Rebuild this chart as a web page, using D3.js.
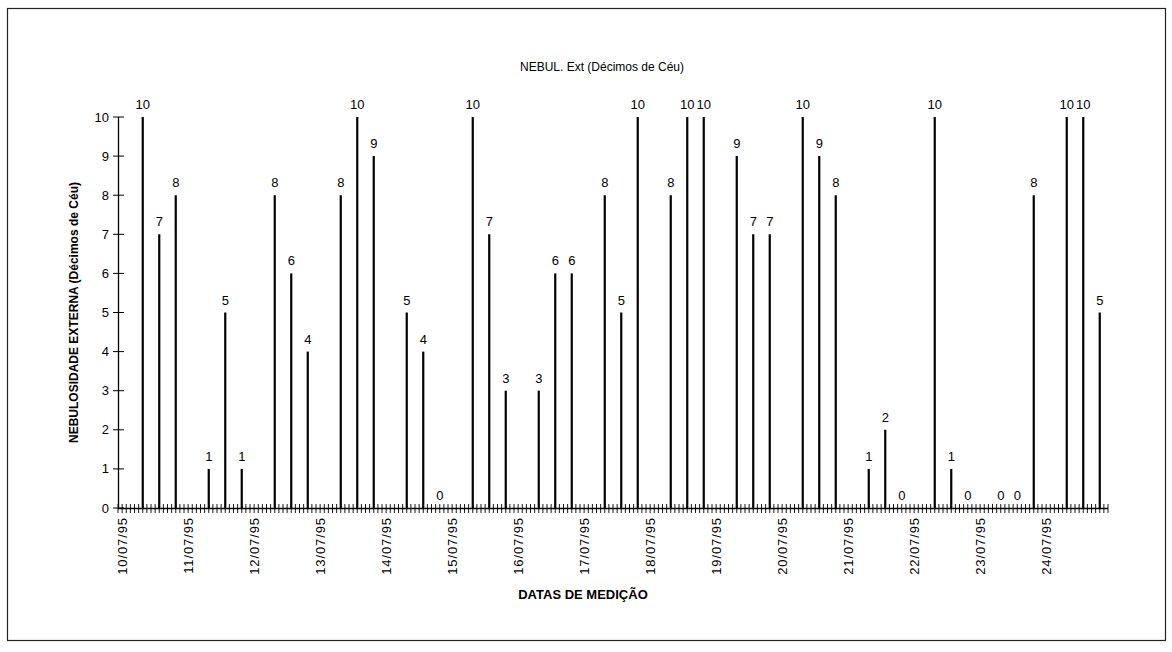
<!DOCTYPE html>
<html>
<head>
<meta charset="utf-8">
<script src="https://cdn.jsdelivr.net/npm/d3@7"></script>
<style>
body { margin: 0; background: #fff; }
text { font-family: Arial, "Liberation Sans", sans-serif; fill: #000; }
</style>
</head>
<body>
<script>
var width = 1172,
    height = 652;

// Datas de medição (one label per day)
var dias = ['10/07/95', '11/07/95', '12/07/95', '13/07/95', '14/07/95',
            '15/07/95', '16/07/95', '17/07/95', '18/07/95', '19/07/95',
            '20/07/95', '21/07/95', '22/07/95', '23/07/95', '24/07/95'];

// three readings per day (décimos de céu)
var leitura1 = [10, 1, 8, 8, 5, 10, 3, 8, 8, 9, 10, 1, 10, 0, 10];
var leitura2 = [7, 5, 6, 10, 4, 7, 6, 5, 10, 7, 9, 2, 1, 0, 10];
var leitura3 = [8, 1, 4, 9, 0, 3, 6, 10, 10, 7, 8, 0, 0, 8, 5];

var yTicks = [0, 1, 2, 3, 4, 5, 6, 7, 8, 9, 10];

// each day takes 4 category slots: the date slot then the 3 readings
var slotsPerDay = 4;
var leituras = [];
dias.forEach(function (d, i) {
    [leitura1, leitura2, leitura3].forEach(function (serie, k) {
        leituras.push({ slot: i * slotsPerDay + k + 1, value: serie[i] });
    });
});

var svg = d3.select('body').append('svg')
    .attr('width', width)
    .attr('height', height);

// frame
svg.append('rect')
    .attr('x', 7.5).attr('y', 8.5)
    .attr('width', 1158).attr('height', 632)
    .attr('fill', 'none')
    .attr('stroke', '#222')
    .attr('stroke-width', 1.2);

var x = d3.scaleBand()
    .domain(d3.range(dias.length * slotsPerDay))
    .range([118, 1108])
    .paddingInner(0)
    .paddingOuter(0);

var y = d3.scaleLinear()
    .domain([0, 10])
    .range([508, 117]);

var minor = d3.scaleLinear()
    .domain([0, dias.length * slotsPerDay * 4])
    .range(x.range());

// title
svg.append('text')
    .attr('x', 602).attr('y', 71)
    .attr('text-anchor', 'middle')
    .style('font-size', '12px')
    .text('NEBUL. Ext (Décimos de Céu)');

// y axis line + crossing ticks
var gy = svg.append('g').attr('class', 'y-axis');
gy.append('line')
    .attr('x1', 118.5).attr('x2', 118.5)
    .attr('y1', y(10)).attr('y2', y(0))
    .attr('stroke', '#000').attr('stroke-width', 1.3);

gy.selectAll('line.tick')
    .data(yTicks)
    .enter().append('line')
    .attr('class', 'tick')
    .attr('x1', 113).attr('x2', 124)
    .attr('y1', function (d) { return y(d); })
    .attr('y2', function (d) { return y(d); })
    .attr('stroke', '#000');

gy.selectAll('text')
    .data(yTicks)
    .enter().append('text')
    .attr('x', 109)
    .attr('y', function (d) { return y(d); })
    .attr('dy', '0.35em')
    .attr('text-anchor', 'end')
    .style('font-size', '13px')
    .text(function (d) { return d; });

svg.append('text')
    .attr('transform', 'translate(78,' + ((y(0) + y(10)) / 2) + ') rotate(-90)')
    .attr('text-anchor', 'middle')
    .style('font-size', '12px')
    .style('font-weight', 'bold')
    .text('NEBULOSIDADE EXTERNA (Décimos de Céu)');

// x axis line + dense crossing ticks
var gx = svg.append('g').attr('class', 'x-axis');
gx.append('line')
    .attr('x1', x.range()[0]).attr('x2', x.range()[1])
    .attr('y1', y(0) + 0.5).attr('y2', y(0) + 0.5)
    .attr('stroke', '#000').attr('stroke-width', 1.5);

gx.selectAll('line.tick')
    .data(d3.range(0, dias.length * slotsPerDay * 4 + 1))
    .enter().append('line')
    .attr('class', 'tick')
    .attr('x1', function (d) { return minor(d); })
    .attr('x2', function (d) { return minor(d); })
    .attr('y1', y(0) - 4).attr('y2', y(0) + 5)
    .attr('stroke', '#000')
    .attr('stroke-width', 0.9);

gx.selectAll('text')
    .data(dias)
    .enter().append('text')
    .attr('transform', function (d, i) {
        var cx = x(i * slotsPerDay) + x.bandwidth() / 2 - 4;
        return 'translate(' + cx + ',517) rotate(-90)';
    })
    .attr('dy', '0.35em')
    .attr('text-anchor', 'end')
    .style('font-size', '13px')
    .style('letter-spacing', '0.9px')
    .text(function (d) { return d; });

svg.append('text')
    .attr('x', 583).attr('y', 599)
    .attr('text-anchor', 'middle')
    .style('font-size', '13px')
    .style('font-weight', 'bold')
    .text('DATAS DE MEDIÇÃO');

// bars (vertical lines)
svg.selectAll('line.bar')
    .data(leituras)
    .enter().append('line')
    .attr('class', 'bar')
    .attr('x1', function (d) { return x(d.slot) + x.bandwidth() / 2; })
    .attr('x2', function (d) { return x(d.slot) + x.bandwidth() / 2; })
    .attr('y1', y(0))
    .attr('y2', function (d) { return y(d.value); })
    .attr('stroke', '#000')
    .attr('stroke-width', 2.2);

// value labels
svg.selectAll('text.val')
    .data(leituras)
    .enter().append('text')
    .attr('class', 'val')
    .attr('x', function (d) { return x(d.slot) + x.bandwidth() / 2; })
    .attr('y', function (d) { return y(d.value) - 8; })
    .attr('text-anchor', 'middle')
    .style('font-size', '13px')
    .text(function (d) { return d.value; });
</script>
</body>
</html>
